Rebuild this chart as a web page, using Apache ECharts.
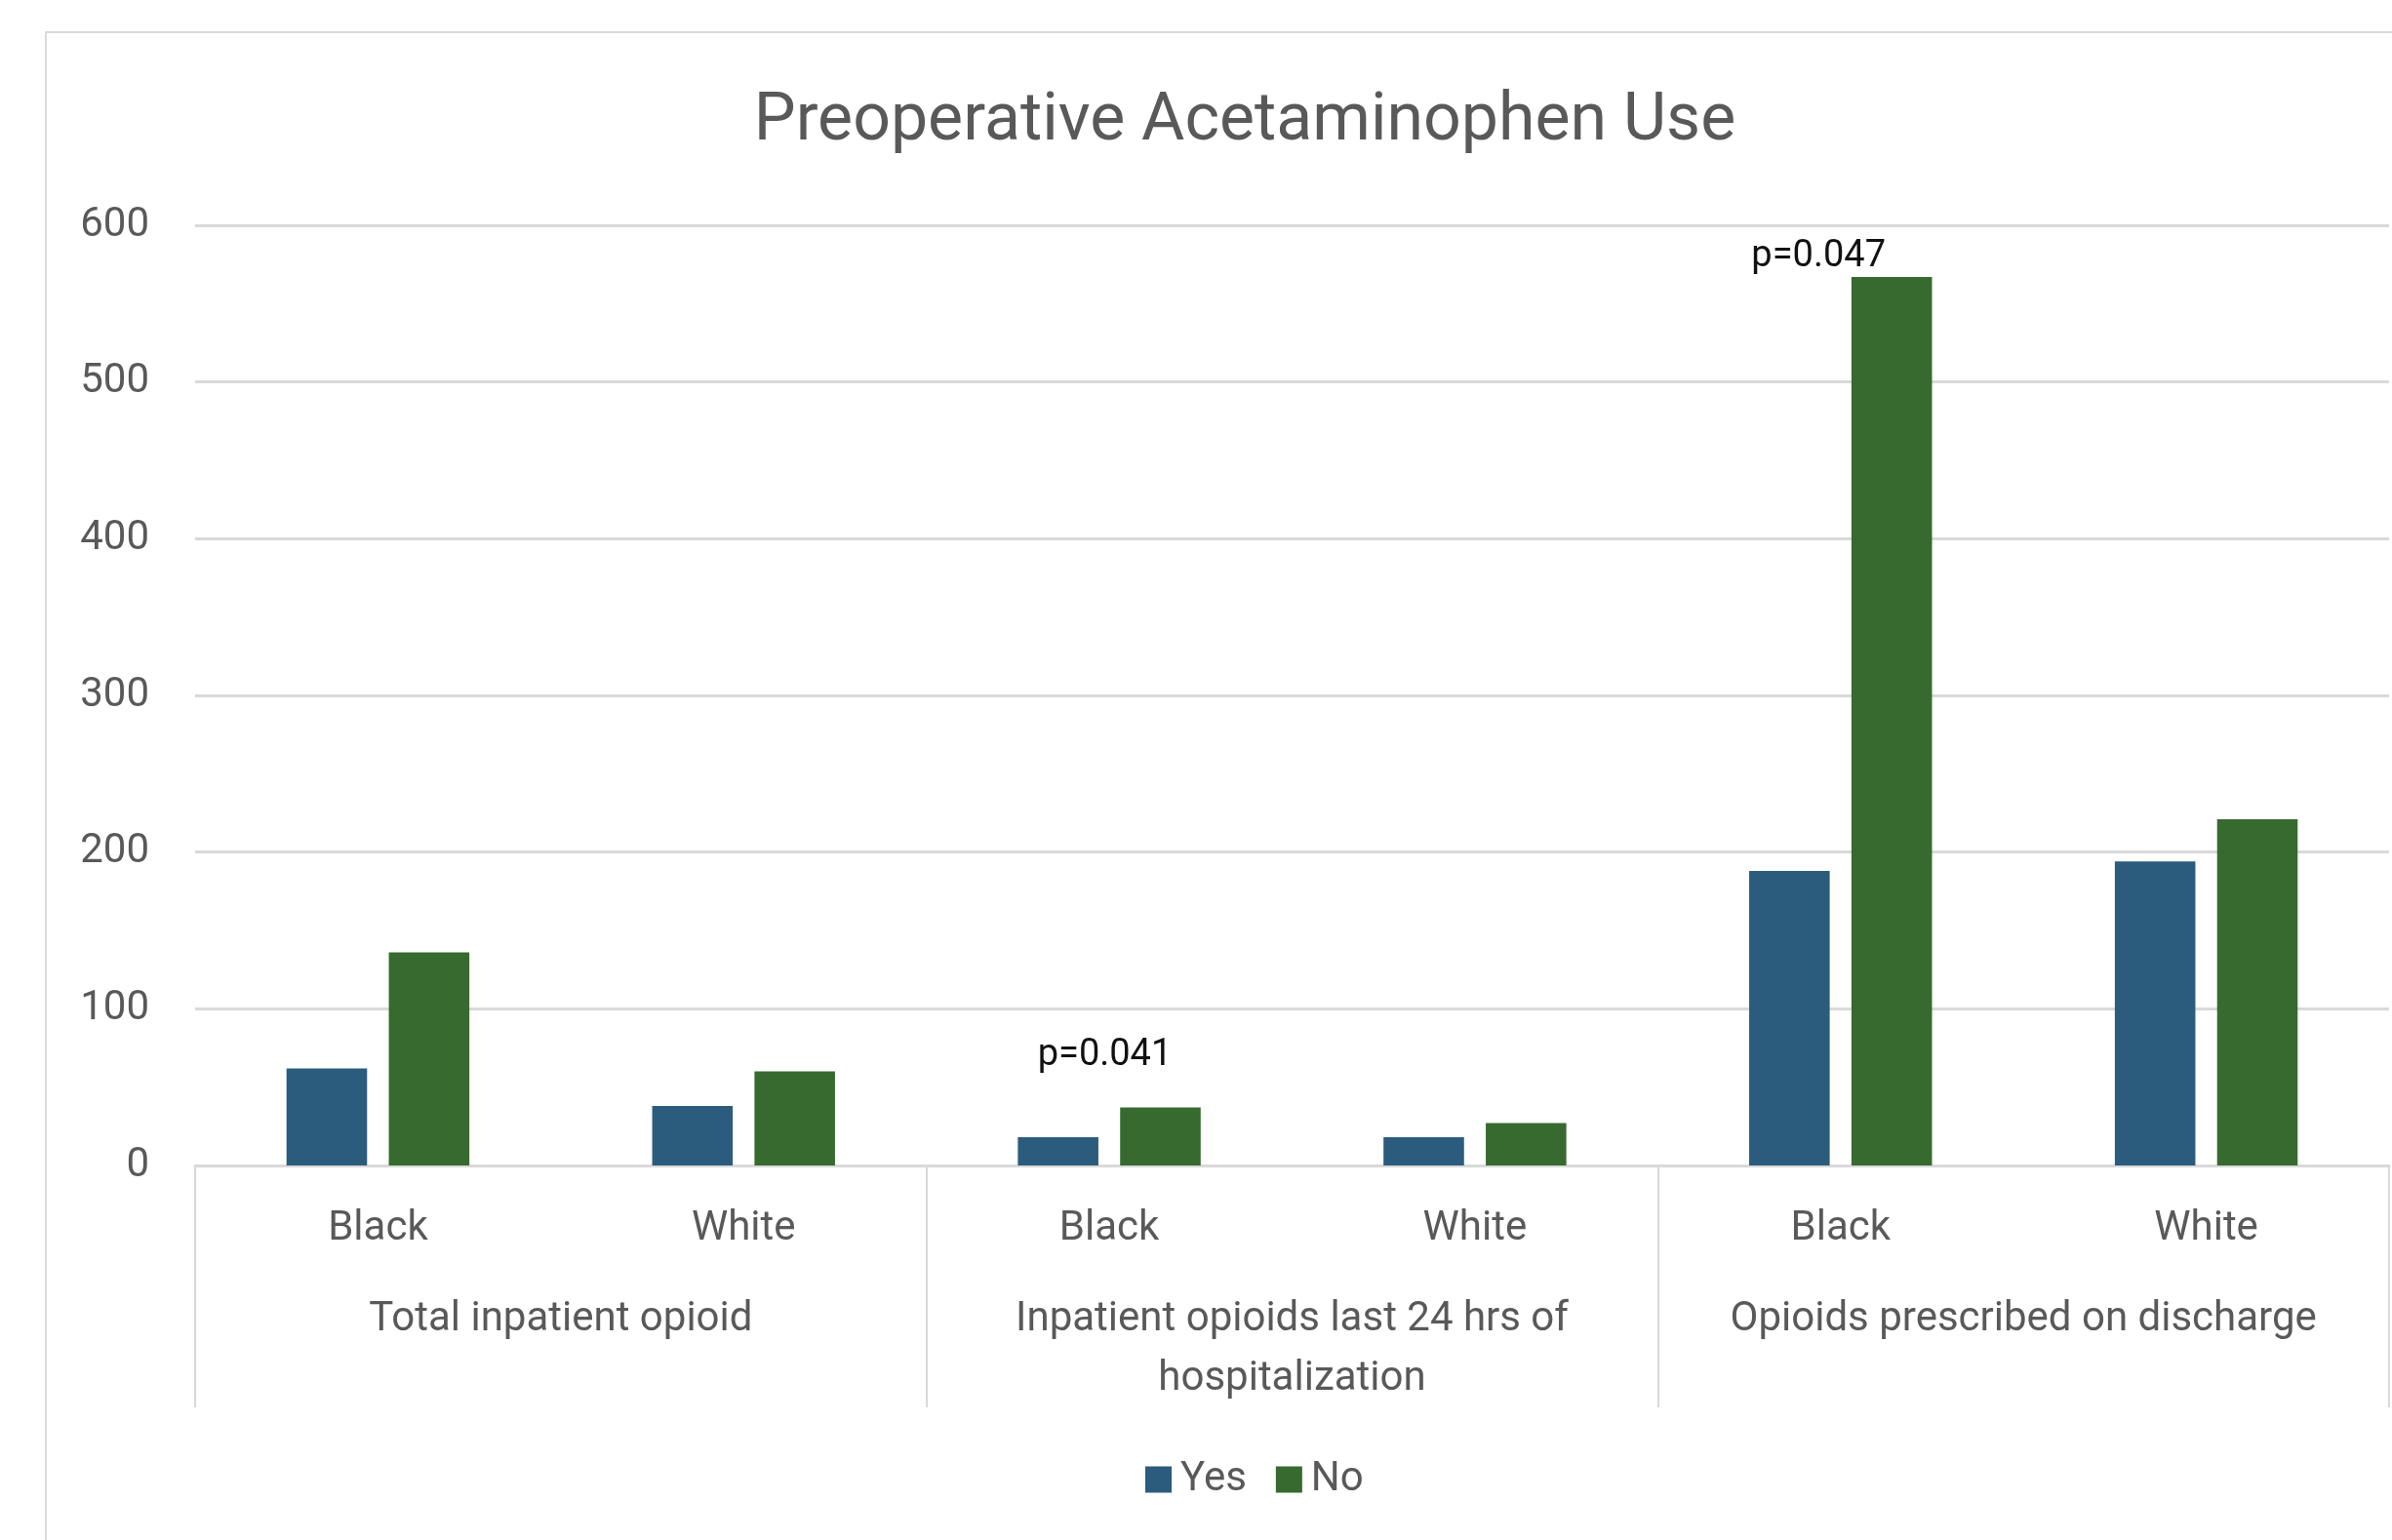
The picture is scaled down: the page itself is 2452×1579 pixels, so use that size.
<!DOCTYPE html>
<html>
<head>
<meta charset="utf-8">
<title>Preoperative Acetaminophen Use</title>
<script src="https://cdn.jsdelivr.net/npm/echarts@6/dist/echarts.min.js"></script>
<style>
  html, body { margin: 0; padding: 0; background: #ffffff; }
  #chart { width: 2452px; height: 1579px; }
</style>
</head>
<body>
<div id="chart"></div>
<script>
// Race subgroups (inner category level) and the outcome groups they sit under
const subgroups = ['Black', 'White', 'Black', 'White', 'Black', 'White'];
const groups = [
  'Total inpatient opioid',
  'Inpatient opioids last 24 hrs of\nhospitalization',
  'Opioids prescribed on discharge'
];

// Opioid use by preoperative acetaminophen status
const yesValues = [62, 38, 18, 18, 188, 194];
const noValues = [136, 60, 37, 27, 567, 221];

// Significance notes shown above the "No" bars
const pNotes = ['', '', 'p=0.041', '', 'p=0.047', ''];

// Y axis ticks
const yTicks = [0, 100, 200, 300, 400, 500, 600];

const FONT = 'Roboto';
const TEXT = '#595959';
const RULE = '#d9d9d9';

// Per-bar placement of the significance notes
const noteOffsets = { 2: [-57, -29], 4: [-75, 3] };

const noData = noValues.map((v, i) => {
  if (!pNotes[i]) return v;
  return {
    value: v,
    label: {
      show: true,
      position: 'top',
      formatter: pNotes[i],
      offset: noteOffsets[i] || [0, 0],
      fontFamily: FONT,
      fontSize: 38,
      color: '#111111'
    }
  };
});

const chart = echarts.init(document.getElementById('chart'), null, { renderer: 'canvas' });

chart.setOption({
  backgroundColor: '#ffffff',
  animation: false,
  graphic: [{
    type: 'rect',
    shape: { x: 47, y: 33, width: 2500, height: 1700 },
    style: { fill: 'none', stroke: RULE, lineWidth: 2 },
    silent: true,
    z: -10
  }],
  title: {
    text: 'Preoperative Acetaminophen Use',
    left: 1271,
    top: 81,
    textAlign: 'center',
    textStyle: {
      fontFamily: FONT,
      fontSize: 68,
      fontWeight: 'normal',
      color: TEXT,
      lineHeight: 80
    }
  },
  legend: {
    data: ['Yes', 'No'],
    left: 1169,
    top: 1491,
    icon: 'rect',
    itemWidth: 27,
    itemHeight: 27,
    itemGap: 30,
    textStyle: {
      fontFamily: FONT,
      fontSize: 42,
      color: TEXT,
      padding: [0, 0, 0, 4]
    }
  },
  grid: {
    left: 200,
    right: 3,
    top: 231,
    bottom: 384,
    containLabel: false
  },
  xAxis: [
    {
      type: 'category',
      data: subgroups,
      position: 'bottom',
      axisLine: { show: true, lineStyle: { color: RULE, width: 3 } },
      axisTick: { show: false },
      axisLabel: {
        interval: 0,
        margin: 40,
        fontFamily: FONT,
        fontSize: 42,
        lineHeight: 50,
        color: TEXT
      },
      splitLine: { show: false }
    },
    {
      type: 'category',
      data: groups,
      position: 'bottom',
      axisLine: { show: false },
      axisTick: {
        show: true,
        interval: 0,
        length: 248,
        lineStyle: { color: RULE, width: 2 }
      },
      axisLabel: {
        interval: 0,
        margin: 128,
        fontFamily: FONT,
        fontSize: 42,
        lineHeight: 61,
        color: TEXT,
        align: 'center'
      },
      splitLine: { show: false }
    }
  ],
  yAxis: {
    type: 'value',
    min: yTicks[0],
    max: yTicks[yTicks.length - 1],
    interval: yTicks[1] - yTicks[0],
    axisLine: { show: false },
    axisTick: { show: false },
    axisLabel: {
      margin: 47,
      fontFamily: FONT,
      fontSize: 42,
      color: TEXT
    },
    splitLine: { lineStyle: { color: RULE, width: 3 } }
  },
  series: [
    {
      name: 'Yes',
      type: 'bar',
      xAxisIndex: 0,
      data: yesValues,
      barCategoryGap: '50%',
      barGap: '27%',
      itemStyle: { color: '#2B5C7E' }
    },
    {
      name: 'No',
      type: 'bar',
      xAxisIndex: 0,
      data: noData,
      barCategoryGap: '50%',
      barGap: '27%',
      itemStyle: { color: '#366A2E' }
    }
  ]
});
</script>
</body>
</html>
